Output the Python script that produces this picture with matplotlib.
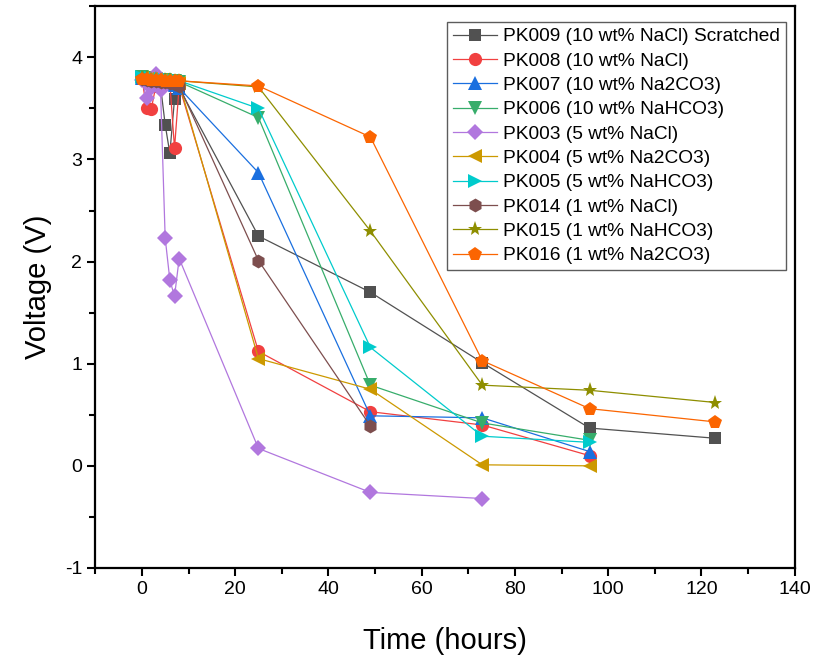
import matplotlib
matplotlib.use('Agg')
import matplotlib.pyplot as plt
from matplotlib.ticker import MultipleLocator

plt.rcParams['font.family'] = ['Liberation Sans', 'DejaVu Sans']
plt.rcParams['axes.unicode_minus'] = False

# early readings (hourly, 0-8 h) then the daily checks
t_early = [0, 1, 2, 3, 4, 5, 6, 7, 8]

pk009_t = t_early + [25, 49, 73, 96, 123]
pk009_v = [3.80, 3.78, 3.76, 3.74, 3.72, 3.34, 3.06, 3.59, 3.70, 2.25, 1.70, 1.01, 0.37, 0.27]

pk008_t = t_early + [25, 49, 73, 96]
pk008_v = [3.80, 3.50, 3.49, 3.72, 3.76, 3.76, 3.75, 3.11, 3.72, 1.12, 0.53, 0.40, 0.10]

pk007_t = t_early + [25, 49, 73, 96]
pk007_v = [3.80, 3.79, 3.78, 3.77, 3.76, 3.75, 3.74, 3.73, 3.70, 2.87, 0.49, 0.47, 0.14]

pk006_t = t_early + [25, 49, 73, 96]
pk006_v = [3.81, 3.80, 3.79, 3.79, 3.78, 3.78, 3.77, 3.77, 3.76, 3.41, 0.79, 0.42, 0.25]

pk003_t = t_early + [25, 49, 73]
pk003_v = [3.78, 3.60, 3.70, 3.84, 3.68, 2.23, 1.82, 1.66, 2.03, 0.17, -0.26, -0.32]

pk004_t = t_early + [25, 49, 73, 96]
pk004_v = [3.80, 3.79, 3.79, 3.78, 3.78, 3.77, 3.77, 3.76, 3.75, 1.05, 0.75, 0.01, 0.00]

pk005_t = t_early + [25, 49, 73, 96]
pk005_v = [3.81, 3.80, 3.80, 3.79, 3.79, 3.78, 3.78, 3.77, 3.77, 3.50, 1.16, 0.29, 0.23]

pk014_t = t_early + [25, 49]
pk014_v = [3.79, 3.78, 3.77, 3.77, 3.76, 3.76, 3.75, 3.74, 3.72, 2.01, 0.39]

pk015_t = t_early + [25, 49, 73, 96, 123]
pk015_v = [3.80, 3.80, 3.79, 3.79, 3.78, 3.78, 3.78, 3.77, 3.77, 3.71, 2.30, 0.79, 0.74, 0.62]

pk016_t = t_early + [25, 49, 73, 96, 123]
pk016_v = [3.79, 3.79, 3.78, 3.78, 3.78, 3.77, 3.77, 3.77, 3.77, 3.72, 3.22, 1.03, 0.56, 0.43]

labels = ['PK009 (10 wt% NaCl) Scratched', 'PK008 (10 wt% NaCl)', 'PK007 (10 wt% Na2CO3)',
          'PK006 (10 wt% NaHCO3)', 'PK003 (5 wt% NaCl)', 'PK004 (5 wt% Na2CO3)',
          'PK005 (5 wt% NaHCO3)', 'PK014 (1 wt% NaCl)', 'PK015 (1 wt% NaHCO3)',
          'PK016 (1 wt% Na2CO3)']

series = [(pk009_t, pk009_v), (pk008_t, pk008_v), (pk007_t, pk007_v), (pk006_t, pk006_v),
          (pk003_t, pk003_v), (pk004_t, pk004_v), (pk005_t, pk005_v), (pk014_t, pk014_v),
          (pk015_t, pk015_v), (pk016_t, pk016_v)]

colors = ['#515151', '#F14040', '#1A6FDF', '#37AD6B', '#B177DE',
          '#CC9900', '#00CBCC', '#7D4E4E', '#8E8E00', '#FB6501']
markers = ['s', 'o', '^', 'v', 'D', '<', '>', 'h', '*', 'p']
msizes = [8.5, 9.5, 10, 10, 8.5, 10.5, 10.5, 10, 11, 10.5]

fig = plt.figure(figsize=(8.21, 6.57), dpi=100)
ax = fig.add_axes([0.116, 0.1355, 0.852, 0.855])

for (t, v), lab, c, m, ms in zip(series, labels, colors, markers, msizes):
    ax.plot(t, v, color=c, marker=m, markersize=ms, linewidth=0.9,
            markeredgewidth=0, label=lab)

ax.set_xlim(-10, 140)
ax.set_ylim(-1, 4.5)
ax.xaxis.set_major_locator(MultipleLocator(20))
ax.xaxis.set_minor_locator(MultipleLocator(10))
ax.yaxis.set_major_locator(MultipleLocator(1))
ax.yaxis.set_minor_locator(MultipleLocator(0.5))
ax.tick_params(which='major', direction='out', length=6, width=1.5, labelsize=14)
ax.tick_params(which='minor', direction='out', length=4, width=1.5)
for s in ax.spines.values():
    s.set_linewidth(1.6)

ax.set_xlabel('Time (hours)', fontsize=21, labelpad=21)
ax.set_ylabel('Voltage (V)', fontsize=21, labelpad=9)

leg = ax.legend(loc='upper right', bbox_to_anchor=(0.987, 0.9715), fontsize=13.8,
                frameon=True, fancybox=False, edgecolor='#333333',
                handlelength=2.3, handletextpad=0.3, borderpad=0.3,
                labelspacing=0.36, borderaxespad=0)
leg.get_frame().set_linewidth(1.0)

fig.savefig('out.png', dpi=100)
